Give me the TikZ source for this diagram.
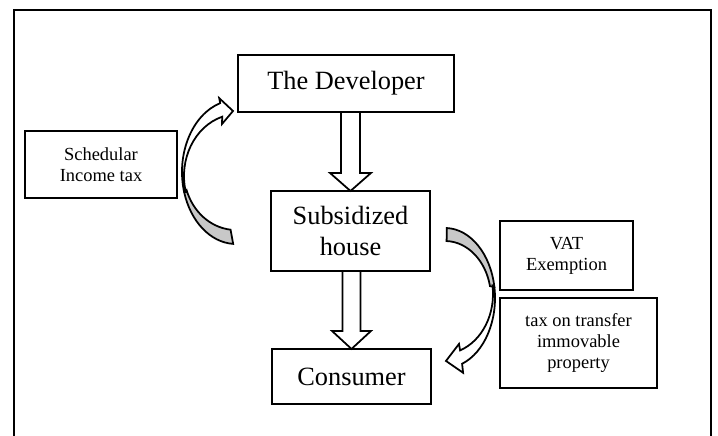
\documentclass[tikz,border=0pt]{standalone}
\usepackage{fontspec}
\setmainfont{Liberation Serif}
\usepackage{tikz}
\usetikzlibrary{positioning,calc}
\definecolor{flowGray}{HTML}{C8C8C8}
\tikzset{
  flowbox/.style={draw=black, line width=1.1pt, align=center, inner sep=0pt, outer sep=0pt},
  bigbox/.style={flowbox, font=\fontsize{15}{18}\selectfont},
  taxbox/.style={flowbox, font=\fontsize{10.5}{12}\selectfont},
  blockarrow/.style={draw=black, line width=1pt, fill=white, line join=miter},
  curvefront/.style={draw=black, line width=1pt, fill=white},
  curveback/.style={draw=black, line width=1pt, fill=flowGray}
}

\begin{document}
\begin{tikzpicture}[x=0.02cm, y=-0.02cm]
    \useasboundingbox (0,0) rectangle (718,436);
    \draw[line width=1.1pt] (14,436) -- (14,10) -- (711,10) -- (711,436);

    \node[bigbox, minimum width=4.32cm, minimum height=1.14cm] (developer) at (346,83.5) {The Developer};
    \node[bigbox, minimum width=3.18cm, minimum height=1.6cm, below=1.58cm of developer, xshift=0.09cm] (house)
      {Subsidized\\house};
    \node[bigbox, minimum width=3.18cm, minimum height=1.1cm, below=1.56cm of house, xshift=0.02cm] (consumer) {Consumer};

    \node[taxbox, minimum width=3.04cm, minimum height=1.34cm] (schedular) at (101,164.5) {Schedular\\Income tax};
    \node[taxbox, minimum width=2.66cm, minimum height=1.38cm] (vat) at (566.5,255.5) {VAT\\Exemption};
    \node[taxbox, minimum width=3.14cm, minimum height=1.8cm, below=0.16cm of vat.south west, anchor=north west] (transfer)
      {tax on transfer\\immovable\\property};

    % block arrows down the middle
    \draw[blockarrow] ($(developer.south -| house.north)+(-9.5,0)$) -- ($(house.north)+(-9.5,-18)$)
      -- ($(house.north)+(-20.5,-18)$) -- (house.north) -- ($(house.north)+(20.5,-18)$)
      -- ($(house.north)+(9.5,-18)$) -- ($(developer.south -| house.north)+(9.5,0)$) -- cycle;
    \draw[blockarrow] ($(house.south -| consumer.north)+(-9,0)$) -- ($(consumer.north)+(-9,-18)$)
      -- ($(consumer.north)+(-19.5,-18)$) -- (consumer.north) -- ($(consumer.north)+(19.5,-18)$)
      -- ($(consumer.north)+(9,-18)$) -- ($(house.south -| consumer.north)+(9,0)$) -- cycle;

    % curved arrow on the left, back up to the developer
    \coordinate (lc) at (236,172);
    \coordinate (lcin) at (238,176);
    \filldraw[curveback] ($(lc)+(93:54 and 72)$) arc[start angle=93, end angle=164, x radius=54, y radius=72]
      -- ($(lc)+(162:52 and 58)$) arc[start angle=162, end angle=96, x radius=52, y radius=58] -- cycle;
    \filldraw[curvefront] ($(lc)+(164:54 and 72)$) arc[start angle=164, end angle=253, x radius=54, y radius=72]
      -- ++(-1,-5) -- ($(developer.south west)+(-5,-1)$) -- ++(-11,13) -- ($(lcin)+(253:54 and 62)$)
      arc[start angle=253, end angle=165, x radius=54, y radius=62] -- cycle;

    % curved arrow on the right, down to the consumer
    \coordinate (rc) at (445,298);
    \coordinate (rcin) at (443,294);
    \filldraw[curveback] ($(rc)+(-88:50 and 70)$) arc[start angle=-88, end angle=-9, x radius=50, y radius=70]
      -- ($(rc)+(-12:46 and 57)$) arc[start angle=-12, end angle=-88, x radius=46, y radius=57] -- cycle;
    \filldraw[curvefront] ($(rc)+(-9:50 and 70)$) arc[start angle=-9, end angle=70, x radius=50, y radius=70]
      -- ++(1,9) -- ($(consumer.north east)+(15,12)$) -- ++(13,-17) -- ($(rcin)+(70:50 and 60)$)
      arc[start angle=70, end angle=-8, x radius=50, y radius=60] -- cycle;
\end{tikzpicture}
\end{document}
